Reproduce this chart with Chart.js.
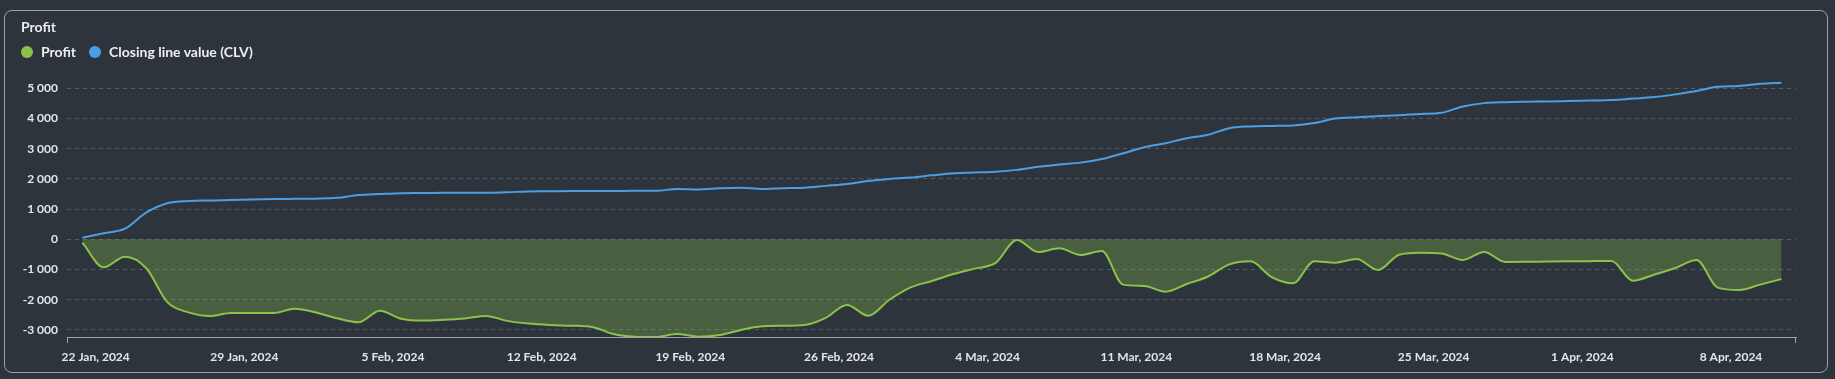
<!DOCTYPE html>
<html>
<head>
<meta charset="utf-8">
<script src="https://cdn.jsdelivr.net/npm/chart.js@4.4.1/dist/chart.umd.min.js"></script>
<style>
  html, body { margin:0; padding:0; width:1835px; height:379px; overflow:hidden; background:#2e343b; font-family:Lato, "Open Sans", sans-serif; }
  #wrap { position:absolute; left:0; top:0; width:1835px; height:379px; }
  #card { position:absolute; left:4px; top:10px; width:1824px; height:363px; box-sizing:border-box; border:1px solid #9ba1a7; border-radius:8px; pointer-events:none; }
  .txt { position:absolute; color:#eceef0; font-weight:700; font-size:14px; line-height:16px; white-space:nowrap; }
  .dot { position:absolute; width:12px; height:12px; border-radius:50%; }
</style>
</head>
<body>
<div id="wrap"><canvas id="c" width="1835" height="379"></canvas></div>
<div id="card"></div>
<div class="txt" style="left:21px;top:19px;">Profit</div>
<div class="dot" style="left:21px;top:46px;background:#8bc34a;"></div>
<div class="txt" style="left:41px;top:44px;">Profit</div>
<div class="dot" style="left:89px;top:46px;background:#4d9fe3;"></div>
<div class="txt" style="left:109px;top:44px;">Closing line value (CLV)</div>
<script>
// ---- data ----
const dates = [
  '2024-01-21','2024-01-22','2024-01-23','2024-01-24','2024-01-25','2024-01-26','2024-01-27','2024-01-28','2024-01-29','2024-01-30',
  '2024-01-31','2024-02-01','2024-02-02','2024-02-03','2024-02-04','2024-02-05','2024-02-06','2024-02-07','2024-02-08','2024-02-09',
  '2024-02-10','2024-02-11','2024-02-12','2024-02-13','2024-02-14','2024-02-15','2024-02-16','2024-02-17','2024-02-18','2024-02-19',
  '2024-02-20','2024-02-21','2024-02-22','2024-02-23','2024-02-24','2024-02-25','2024-02-26','2024-02-27','2024-02-28','2024-02-29',
  '2024-03-01','2024-03-02','2024-03-03','2024-03-04','2024-03-05','2024-03-06','2024-03-07','2024-03-08','2024-03-09','2024-03-10',
  '2024-03-11','2024-03-12','2024-03-13','2024-03-14','2024-03-15','2024-03-16','2024-03-17','2024-03-18','2024-03-19','2024-03-20',
  '2024-03-21','2024-03-22','2024-03-23','2024-03-24','2024-03-25','2024-03-26','2024-03-27','2024-03-28','2024-03-29','2024-03-30',
  '2024-03-31','2024-04-01','2024-04-02','2024-04-03','2024-04-04','2024-04-05','2024-04-06','2024-04-07','2024-04-08','2024-04-09',
  '2024-04-10'
];
const profit = [
  -110, -927, -574, -950, -2080, -2420, -2539, -2439, -2439, -2439,
  -2296, -2420, -2616, -2748, -2362, -2627, -2690, -2665, -2620, -2539,
  -2700, -2790, -2837, -2860, -2900, -3135, -3223, -3234, -3135, -3223,
  -3170, -3000, -2880, -2859, -2837, -2600, -2174, -2528, -2000, -1590,
  -1380, -1150, -970, -780, -22, -419, -298, -519, -386, -1500,
  -1545, -1733, -1480, -1230, -830, -728, -1250, -1457, -728, -773,
  -651, -1015, -508, -442, -470, -684, -419, -751, -745, -735,
  -728, -722, -717, -1369, -1170, -950, -684, -1600, -1680, -1500,
  -1313
];
const clv = [
  55, 199, 353, 885, 1195, 1270, 1285, 1300, 1320, 1333,
  1340, 1347, 1375, 1465, 1500, 1530, 1535, 1540, 1543, 1545,
  1560, 1585, 1590, 1597, 1600, 1602, 1605, 1605, 1670, 1650,
  1690, 1711, 1670, 1695, 1710, 1770, 1830, 1930, 2000, 2045,
  2120, 2190, 2215, 2240, 2300, 2400, 2480, 2540, 2660, 2850,
  3050, 3180, 3350, 3460, 3680, 3740, 3755, 3770, 3850, 4000,
  4045, 4080, 4110, 4150, 4190, 4400, 4510, 4540, 4555, 4565,
  4580, 4595, 4610, 4660, 4710, 4800, 4910, 5050, 5080, 5150,
  5188
];
const sampleHour = 9; // time of day each point was recorded
const tickDates = ['2024-01-22','2024-01-29','2024-02-05','2024-02-12','2024-02-19','2024-02-26','2024-03-04','2024-03-11','2024-03-18','2024-03-25','2024-04-01','2024-04-08'];
const tickLabels = ['22 Jan, 2024','29 Jan, 2024','5 Feb, 2024','12 Feb, 2024','19 Feb, 2024','26 Feb, 2024','4 Mar, 2024','11 Mar, 2024','18 Mar, 2024','25 Mar, 2024','1 Apr, 2024','8 Apr, 2024'];
const yTicks = [-3000, -2000, -1000, 0, 1000, 2000, 3000, 4000, 5000];
const yTickLabels = ['-3 000', '-2 000', '-1 000', '0', '1 000', '2 000', '3 000', '4 000', '5 000'];

// ---- helpers ----
const DAY = 86400000;
const origin = Date.UTC(2024, 0, 22);
const dayOf = s => (Date.parse(s + 'T00:00:00Z') - origin) / DAY;
const xs = dates.map(d => dayOf(d) + sampleHour / 24);
const tickX = tickDates.map(dayOf);

const endTicks = {
  id: 'endTicks',
  afterDraw(chart) {
    const {ctx, chartArea} = chart;
    ctx.save();
    ctx.strokeStyle = '#9ba1a7';
    ctx.lineWidth = 1;
    ctx.beginPath();
    ctx.moveTo(Math.round(chartArea.left) + 0.5, chartArea.bottom);
    ctx.lineTo(Math.round(chartArea.left) + 0.5, chartArea.bottom + 6);
    ctx.moveTo(Math.round(chartArea.right) - 0.5, chartArea.bottom);
    ctx.lineTo(Math.round(chartArea.right) - 0.5, chartArea.bottom + 6);
    ctx.stroke();
    ctx.restore();
  }
};

Chart.defaults.font.family = 'Lato';
Chart.defaults.font.weight = 'bold';
Chart.defaults.color = '#e3e6e9';

new Chart(document.getElementById('c'), {
  type: 'line',
  data: {
    datasets: [
      {
        label: 'Profit',
        data: xs.map((x, i) => ({x, y: profit[i]})),
        borderColor: '#8bc34a',
        backgroundColor: 'rgba(139,195,74,0.30)',
        borderWidth: 2,
        fill: 'origin',
        pointRadius: 0,
        cubicInterpolationMode: 'monotone'
      },
      {
        label: 'Closing line value (CLV)',
        data: xs.map((x, i) => ({x, y: clv[i]})),
        borderColor: '#4d9fe3',
        backgroundColor: '#4d9fe3',
        borderWidth: 2,
        fill: false,
        pointRadius: 0,
        cubicInterpolationMode: 'monotone'
      }
    ]
  },
  options: {
    responsive: false,
    animation: false,
    devicePixelRatio: 1,
    layout: { padding: { left: 0, right: 39, top: 70, bottom: 0 } },
    plugins: { legend: { display: false }, title: { display: false }, tooltip: { enabled: false } },
    scales: {
      x: {
        type: 'linear',
        min: -1.35,
        max: 80.06,
        grid: { display: false, drawTicks: false },
        border: { display: true, color: '#9ba1a7', width: 1 },
        afterBuildTicks: s => { s.ticks = tickX.map(v => ({value: v})); },
        afterFit: s => { s.height = 42; },
        ticks: {
          autoSkip: false,
          maxRotation: 0,
          padding: 13,
          font: { size: 12, weight: 'bold' },
          callback: (v, i) => tickLabels[i]
        }
      },
      y: {
        min: -3234,
        max: 5607,
        grid: { color: '#565c63', lineWidth: 1, drawTicks: false },
        border: { display: false, dash: [4, 4] },
        afterBuildTicks: s => { s.ticks = yTicks.map(v => ({value: v})); },
        afterFit: s => { s.width = 67; },
        ticks: {
          padding: 9,
          font: { size: 12, weight: 'bold' },
          callback: (v, i) => yTickLabels[i]
        }
      }
    }
  },
  plugins: [endTicks]
});
</script>
</body>
</html>
